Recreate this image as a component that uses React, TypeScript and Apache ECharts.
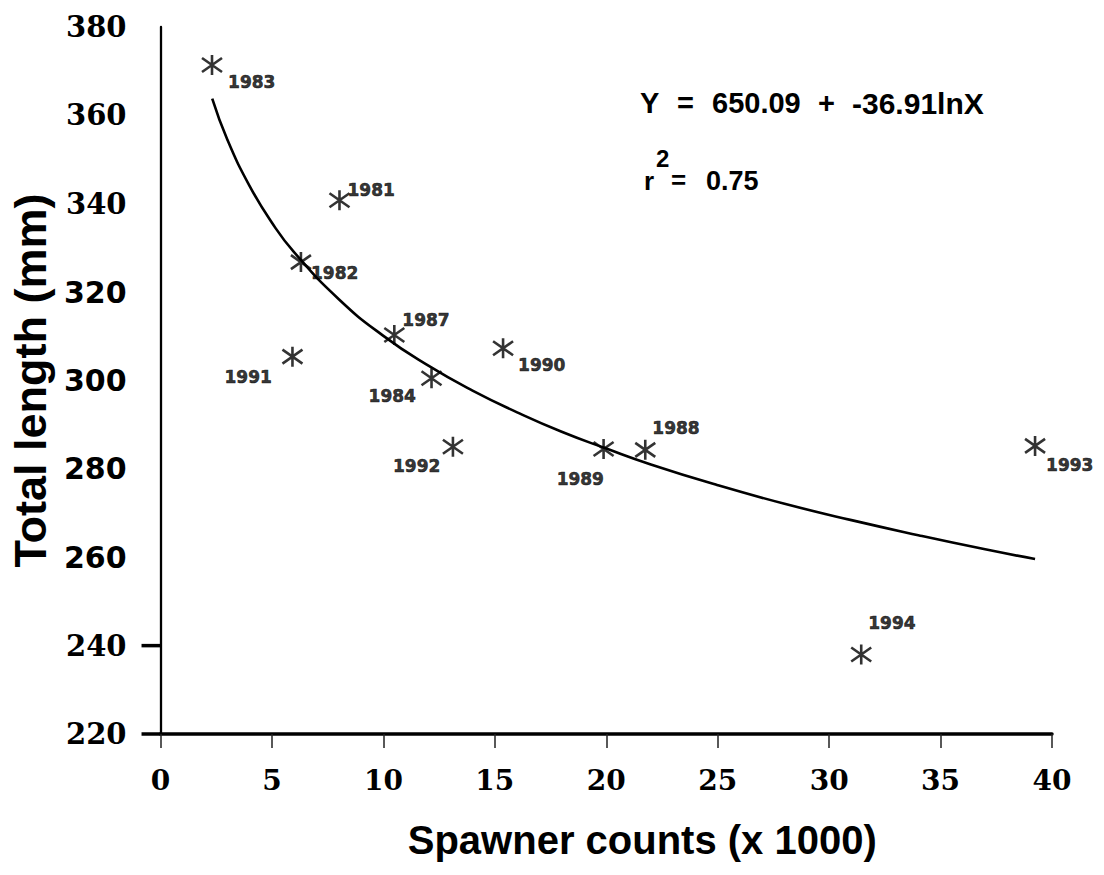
import React, { useEffect, useRef } from "react";
import * as echarts from "echarts";

// Observed data points (spawner counts in thousands, total length in mm)
const years = ["1983", "1981", "1982", "1987", "1991", "1990", "1984", "1992", "1989", "1988", "1993", "1994"];
const spawners = [2.31, 8.03, 6.3, 10.49, 5.92, 15.37, 12.16, 13.12, 19.88, 21.75, 39.24, 31.44];
const lengths = [371.4, 340.8, 326.8, 310.3, 305.4, 307.3, 300.5, 285.0, 284.5, 284.3, 285.2, 238.0];

// Fitted curve
const curveX = [2.32, 3, 4, 5, 6, 8, 10, 12, 14, 16, 18, 20, 22, 25, 28, 31, 34, 37, 39.24];
const curveY = [363.8, 354.5, 344, 335.7, 329, 318.4, 310.1, 303.4, 297.7, 292.8, 288.4, 284.6, 281, 276.3, 272.1, 268.4, 265, 261.8, 259.6];

// Tick labels
const yTicks = [220, 240, 260, 280, 300, 320, 340, 360, 380];
const xTicks = [0, 5, 10, 15, 20, 25, 30, 35, 40];
const serifYTicks = [380, 360, 340, 240, 220];
const markedYTicks = [240, 220];

// label offsets (style) relative to each marker centre
const labelOffsets: Record<string, [number, number]> = {
  "1983": [41, 18],
  "1981": [33, -9],
  "1982": [35, 12],
  "1987": [33, -14],
  "1991": [-43, 22],
  "1990": [40, 18],
  "1984": [-38, 19],
  "1992": [-35, 21],
  "1989": [-22, 31],
  "1988": [32, -21],
  "1993": [36, 20],
  "1994": [32, -30],
};

const STAR = "path://M10,0L10,20M1.5,3L18.5,17M1.5,17L18.5,3";

export default function App() {
  const ref = useRef<HTMLDivElement>(null);
  useEffect(() => {
    if (!ref.current) return;
    const chart = echarts.init(ref.current, null, { renderer: "svg" });
    const sansBold = { fontFamily: "Liberation Sans", fontWeight: "bold" as const, color: "#000" };
    chart.setOption({
      animation: false,
      backgroundColor: "#fff",
      grid: { left: 150, right: 52, top: 27, bottom: 141, containLabel: false },
      xAxis: {
        type: "value",
        min: xTicks[0],
        max: xTicks[xTicks.length - 1],
        interval: 5,
        axisLine: { show: true, lineStyle: { color: "#000", width: 3.5 } },
        axisTick: { show: true, inside: false, length: 14, lineStyle: { color: "#222", width: 1.5 } },
        splitLine: { show: false },
        axisLabel: {
          margin: 32,
          fontFamily: "DejaVu Serif",
          fontWeight: "bold",
          fontSize: 28,
          color: "#000",
        },
        name: "Spawner counts (x 1000)",
        nameLocation: "middle",
        nameGap: 86,
        nameTextStyle: { ...sansBold, fontSize: 40, padding: [0, 0, 0, 72] },
      },
      yAxis: {
        type: "value",
        min: yTicks[0],
        max: yTicks[yTicks.length - 1],
        interval: 20,
        axisLine: { show: true, lineStyle: { color: "#000", width: 2.3 } },
        axisTick: { show: false },
        splitLine: { show: false },
        axisLabel: {
          margin: 34,
          formatter: (v: number) => (serifYTicks.includes(v) ? `{s|${v}}` : `{a|${v}}`),
          rich: {
            s: { fontFamily: "DejaVu Serif", fontWeight: "bold", fontSize: 29, color: "#000" },
            a: { fontFamily: "DejaVu Sans", fontWeight: "bold", fontSize: 30, color: "#000" },
          },
        },
        name: "Total length (mm)",
        nameLocation: "middle",
        nameRotate: 90,
        nameGap: 104,
        nameTextStyle: { ...sansBold, fontSize: 45 },
      },
      series: [
        {
          type: "line",
          data: curveX.map((x, i) => [x, curveY[i]]),
          showSymbol: false,
          smooth: true,
          lineStyle: { color: "#000", width: 2.6 },
          z: 1,
        },
        {
          type: "scatter",
          symbol: STAR,
          symbolSize: [20, 20],
          itemStyle: { color: "#000", borderColor: "#000", borderWidth: 2.6 },
          data: years.map((y, i) => ({
            name: y,
            value: [spawners[i], lengths[i]],
            label: { offset: labelOffsets[y] },
          })),
          label: {
            show: true,
            position: [10, 10],
            align: "center",
            verticalAlign: "middle",
            formatter: "{b}",
            fontFamily: "DejaVu Sans",
            fontWeight: "bold",
            fontSize: 17,
            color: "#000",
            textBorderColor: "#000",
            textBorderWidth: 0.6,
          },
          z: 3,
        },
      ],
    });

    const tickEls = markedYTicks.map((v) => {
      const p = chart.convertToPixel({ gridIndex: 0 }, [0, v]) as number[];
      return {
        type: "line",
        shape: { x1: p[0] - 19, y1: p[1], x2: p[0], y2: p[1] },
        style: { stroke: "#000", lineWidth: 3.5 },
      };
    });

    const eq = { fontFamily: "Liberation Sans", fontWeight: "bold", fill: "#000" };
    chart.setOption({
      graphic: [
        ...tickEls,
        { type: "text", left: 640, top: 88, style: { ...eq, text: "Y", fontSize: 29 } },
        { type: "text", left: 677, top: 88, style: { ...eq, text: "=", fontSize: 29 } },
        { type: "text", left: 712, top: 88, style: { ...eq, text: "650.09", fontSize: 29 } },
        { type: "text", left: 818, top: 88, style: { ...eq, text: "+", fontSize: 29 } },
        { type: "text", left: 852, top: 88, style: { ...eq, text: "-36.91lnX", fontSize: 30 } },
        { type: "text", left: 644, top: 168, style: { ...eq, text: "r", fontSize: 26 } },
        { type: "text", left: 656, top: 146, style: { ...eq, text: "2", fontSize: 24 } },
        { type: "text", left: 671, top: 167, style: { ...eq, text: "=", fontSize: 26 } },
        { type: "text", left: 706, top: 167, style: { ...eq, text: "0.75", fontSize: 27 } },
      ],
    });

    return () => chart.dispose();
  }, []);
  return (
    <div
      ref={ref}
      style={{ position: "absolute", left: 0, top: 0, width: 1104, height: 875, background: "#fff" }}
    />
  );
}
